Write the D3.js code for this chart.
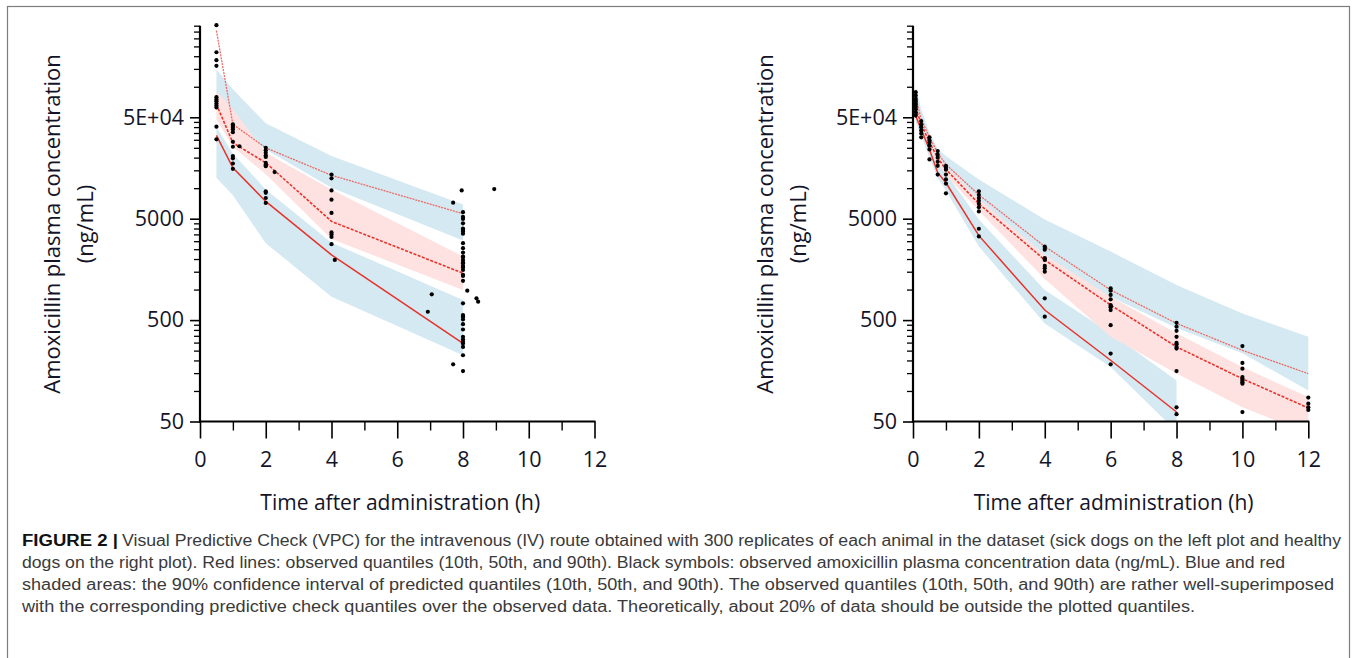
<!DOCTYPE html>
<html><head><meta charset="utf-8">
<script src="https://cdn.jsdelivr.net/npm/d3@7"></script>
<style>
html,body{margin:0;padding:0;background:#fff;}
svg{display:block;}
</style></head>
<body>
<svg id="c" width="1357" height="658"></svg>
<script>
// ---------- tick labels ----------
const yTickValues = [50, 500, 5000, 50000];
const yTickLabels = ["50", "500", "5000", "5E+04"];
const xTickValues = [0, 2, 4, 6, 8, 10, 12];
const xTickLabels = ["0", "2", "4", "6", "8", "10", "12"];
const yTitle = ["Amoxicillin plasma concentration", "(ng/mL)"];
const xTitle = "Time after administration (h)";

// ---------- left panel (sick dogs) ----------
const leftTimes = [0.5, 1, 2, 4, 8];
const leftP10 = [33200, 15900, 7400, 2200, 294];
const leftP50 = [67000, 28000, 17800, 4700, 1450];
const leftP90 = [357000, 42600, 25000, 13400, 5600];
const leftCI90hi = [149000, 94600, 43600, 20700, 6900];
const leftCI90lo = [60000, 42000, 24100, 10100, 3050];
const leftCI50hi = [91000, 60000, 22300, 9700, 2120];
const leftCI50lo = [47700, 25600, 13700, 3150, 990];
const leftCI10hi = [40000, 22000, 9700, 2900, 790];
const leftCI10lo = [12700, 8500, 2870, 851, 225];
const leftObsT = [0.5,0.5,0.5,0.5,0.5,0.5,0.5,0.5,0.5,0.5,0.5,0.5,
  1,1,1,1,1,1,1,1.2,1,1,1,1,
  2,2,2,2,2,2,2,2,2,2.27,2,2,2,2,
  4,4,4,4,4,4,4,4,4,4.1,
  7.7,7.96,8.95,8,8,8,8,8,8,8,8,8,8,8,8,8,8,8,8,8,8,8,8,8,8,
  7.05,8.41,8.13,8.46,8,6.93,8,8,8,8,8,8,8,8,8,8,8,8,7.7,8,8,8];
const leftObsV = [405000,219000,183000,161000,79000,75000,72000,68500,65500,62500,40400,30300,
  42600,41000,39400,37900,35600,28700,25600,25900,20700,19700,17500,15500,
  25000,23700,22300,21100,20300,17800,17100,16500,16500,14400,9300,9000,8000,7150,
  13600,12500,9500,7700,5700,3660,3500,3300,2800,1960,
  7200,9500,9800,5800,5200,4970,4500,4000,3900,3740,3550,2870,2560,2320,2120,1960,1820,1710,1650,1560,1400,1360,1220,
  2090,1850,898,820,975,759,731,604,561,540,540,508,456,404,342,322,305,294,272,225,183,157];

// ---------- right panel (healthy dogs) ----------
const rightTimes = [0.083, 0.25, 0.5, 0.75, 1, 2, 4, 6, 8, 10, 12];
const rightP90 = [78000, 47700, 31700, 22300, 17100, 8600, 2660, 991, 464, 252, 148];
const rightP50 = [62000, 42600, 28300, 19900, 15300, 7000, 1960, 704, 272, 132, 68];
const rightP10 = [51500, 37900, 24100, 14200, 11300, 3400, 628, 201, 62];
const rightCI90hi = [102000, 60000, 35000, 24500, 20700, 12200, 4900, 2370, 1110, 582, 342];
const rightCI90lo = [55000, 40000, 27000, 19000, 15000, 7000, 1680, 850, 417, 236, 101];
const rightCI50hi = [68000, 45000, 30000, 21500, 16500, 7800, 2200, 850, 370, 172, 87];
const rightCI50lo = [56000, 38000, 25500, 17500, 13500, 6000, 1270, 342, 149, 69, 38];
const rightCI10hi = [58000, 41000, 26000, 18000, 14000, 4900, 991, 370, 127];
const rightCI10lo = [45000, 33000, 20000, 12500, 9500, 2660, 464, 172, 40];
const rightObsT = [0.083,0.083,0.083,0.083,0.083,0.083,0.083,0.083,0.083,0.083,
  0.25,0.25,0.25,0.25,0.25,0.25,
  0.5,0.5,0.5,0.5,0.5,0.5,
  0.75,0.75,0.75,0.75,0.75,0.75,
  1,1,1,1,1,1,1,
  2,2,2,2,2,2,2,2,2,
  4,4,4,4,4,4,4,4,4,4,4,
  6,6,6,6,6,6,6,6,6,6,6,
  8,8,8,8,8,8,8,8,8,8,8,
  10,10,10,10,10,10,10,10,10,
  12,12,12,12];
const rightObsV = [88500,82000,76000,72600,69300,66000,63000,60000,56000,52000,
  45900,42600,39800,37100,34600,31700,
  31700,29500,28200,26300,24100,19200,
  23200,21400,20000,18200,16600,13600,
  16600,15900,15200,13600,12200,11100,8900,
  9300,8600,8000,7500,7000,6500,5900,3980,3340,
  2660,2570,2470,2040,2000,1960,1710,1620,1500,820,540,
  1030,975,885,802,704,688,668,628,446,234,183,
  470,430,392,342,298,289,272,262,157,69,59,
  277,189,166,137,132,127,122,118,62,
  86,75,69,65];

// ---------- caption ----------
const captionBold = "FIGURE 2 |";
const captionLines = [
  "Visual Predictive Check (VPC) for the intravenous (IV) route obtained with 300 replicates of each animal in the dataset (sick dogs on the left plot and healthy",
  "dogs on the right plot). Red lines: observed quantiles (10th, 50th, and 90th). Black symbols: observed amoxicillin plasma concentration data (ng/mL). Blue and red",
  "shaded areas: the 90% confidence interval of predicted quantiles (10th, 50th, and 90th). The observed quantiles (10th, 50th, and 90th) are rather well-superimposed",
  "with the corresponding predictive check quantiles over the observed data. Theoretically, about 20% of data should be outside the plotted quantiles."
];

// ================= drawing =================
const svg = d3.select("#c");
svg.append("rect").attr("x", 0).attr("y", 0).attr("width", 1357).attr("height", 658).attr("fill", "#fff");
svg.append("rect").attr("x", 7.5).attr("y", 6.5).attr("width", 1342).attr("height", 700)
  .attr("fill", "none").attr("stroke", "#7d7d7d").attr("stroke-width", 1.2);

const FONT = "'Open Sans', 'DejaVu Sans', sans-serif";
const BLUE = "#d4e9f1";
const PINK = "#fde2e1";
const RED = "#e8332b";
const RED90 = "#ee6a66";

const yTop = 25.7, yBot = 421.5;

function zip(ts, lo, hi) { return ts.slice(0, Math.min(lo.length, hi.length)).map((t, i) => ({t, lo: lo[i], hi: hi[i]})); }
function pts(ts, vs) { return vs.map((v, i) => ({t: ts[i], v})); }

function minorTicks() {
  const out = [];
  [50, 500, 5000, 50000].forEach(b => { for (let k = 2; k <= 9; k++) { const v = k * b; if (v <= 400000) out.push(v); } });
  return out;
}

function panel(id, x0, x1, d) {
  const x = d3.scaleLinear().domain([0, 12]).range([x0, x1]);
  const y = d3.scaleLog().domain([50, 400000]).range([yBot, yTop]);
  const g = svg.append("g");
  const clipId = "clip" + id;
  svg.append("clipPath").attr("id", clipId).append("rect")
    .attr("x", x0).attr("y", yTop).attr("width", x1 - x0 + 2).attr("height", yBot - yTop);
  const plot = g.append("g").attr("clip-path", `url(#${clipId})`);

  const area = d3.area().x(p => x(p.t)).y0(p => y(p.lo)).y1(p => y(p.hi));
  const line = d3.line().x(p => x(p.t)).y(p => y(p.v));

  plot.append("path").attr("d", area(zip(d.times, d.ci90lo, d.ci90hi))).attr("fill", BLUE);
  plot.append("path").attr("d", area(zip(d.times, d.ci10lo, d.ci10hi))).attr("fill", BLUE);
  plot.append("path").attr("d", area(zip(d.times, d.ci50lo, d.ci50hi))).attr("fill", PINK);

  plot.append("path").attr("d", line(pts(d.times, d.p90))).attr("fill", "none")
    .attr("stroke", RED90).attr("stroke-width", 1.3).attr("stroke-dasharray", "2,1");
  plot.append("path").attr("d", line(pts(d.times, d.p50))).attr("fill", "none")
    .attr("stroke", RED).attr("stroke-width", 1.6).attr("stroke-dasharray", "3,1.5");
  plot.append("path").attr("d", line(pts(d.times, d.p10))).attr("fill", "none")
    .attr("stroke", RED).attr("stroke-width", 1.5);

  g.append("g").selectAll("circle").data(d.obsV.map((v, i) => ({t: d.obsT[i], v})))
    .join("circle").attr("cx", p => x(p.t)).attr("cy", p => y(p.v)).attr("r", 2.1).attr("fill", "#000");

  // y axis
  const ya = g.append("g").attr("transform", `translate(${x0},0)`)
    .call(d3.axisLeft(y).tickValues(yTickValues).tickFormat((v, i) => yTickLabels[i]).tickSize(10).tickSizeOuter(0).tickPadding(6));
  ya.select(".domain").remove();
  ya.selectAll("line").attr("stroke", "#000").attr("stroke-width", 1.6);
  ya.selectAll("text").attr("font-family", FONT).attr("font-size", 21.5).attr("fill", "#141428");
  const ym = g.append("g").attr("transform", `translate(${x0},0)`)
    .call(d3.axisLeft(y).tickValues(minorTicks()).tickFormat("").tickSize(6).tickSizeOuter(0));
  ym.select(".domain").remove();
  ym.selectAll("line").attr("stroke", "#000").attr("stroke-width", 1.3);

  // x axis
  const xa = g.append("g").attr("transform", `translate(0,${yBot})`)
    .call(d3.axisBottom(x).tickValues(xTickValues).tickFormat((v, i) => xTickLabels[i]).tickSize(17).tickSizeOuter(0).tickPadding(13));
  xa.select(".domain").remove();
  xa.selectAll("line").attr("stroke", "#000").attr("stroke-width", 1.6);
  xa.selectAll("text").attr("font-family", FONT).attr("font-size", 21.5).attr("fill", "#141428");
  const xm = g.append("g").attr("transform", `translate(0,${yBot})`)
    .call(d3.axisBottom(x).tickValues(d3.range(1, 12, 2)).tickFormat("").tickSize(9).tickSizeOuter(0));
  xm.select(".domain").remove();
  xm.selectAll("line").attr("stroke", "#000").attr("stroke-width", 1.4);

  // axis lines
  g.append("line").attr("x1", x0).attr("x2", x0).attr("y1", yTop).attr("y2", yBot + 1)
    .attr("stroke", "#000").attr("stroke-width", 2.2);
  g.append("line").attr("x1", x0 - 1).attr("x2", x1 + 1).attr("y1", yBot).attr("y2", yBot)
    .attr("stroke", "#000").attr("stroke-width", 2.2);

  // titles
  g.append("text").attr("x", (x0 + x1) / 2 + 3).attr("y", 510).attr("text-anchor", "middle")
    .attr("font-family", FONT).attr("font-size", 21).attr("fill", "#141428").text(xTitle);
  yTitle.forEach((s, i) => {
    g.append("text").attr("transform", `translate(${x0 - 140 + i * 33},224) rotate(-90)`)
      .attr("text-anchor", "middle").attr("font-family", FONT).attr("font-size", 22)
      .attr("fill", "#141428").text(s);
  });
}

panel("L", 200, 594.5, {
  times: leftTimes, p10: leftP10, p50: leftP50, p90: leftP90,
  ci90hi: leftCI90hi, ci90lo: leftCI90lo, ci50hi: leftCI50hi, ci50lo: leftCI50lo,
  ci10hi: leftCI10hi, ci10lo: leftCI10lo, obsT: leftObsT, obsV: leftObsV
});
panel("R", 913, 1308.3, {
  times: rightTimes, p10: rightP10, p50: rightP50, p90: rightP90,
  ci90hi: rightCI90hi, ci90lo: rightCI90lo, ci50hi: rightCI50hi, ci50lo: rightCI50lo,
  ci10hi: rightCI10hi, ci10lo: rightCI10lo, obsT: rightObsT, obsV: rightObsV
});

// caption
const CAPFONT = "'Liberation Sans Narrow', 'Liberation Sans', Arial, sans-serif";
const capEnds = [1341, 1285, 1334, 1195];
const capBase = [545.5, 567.5, 589.5, 611.5];
svg.append("text").attr("x", 22).attr("y", capBase[0]).attr("font-family", CAPFONT)
  .attr("font-size", 16).attr("font-weight", "bold").attr("fill", "#111")
  .attr("textLength", 96).attr("lengthAdjust", "spacingAndGlyphs").text(captionBold);
captionLines.forEach((s, i) => {
  const sx = i === 0 ? 122 : 22;
  svg.append("text").attr("x", sx).attr("y", capBase[i]).attr("font-family", CAPFONT)
    .attr("font-size", 16).attr("fill", "#3a3a3a")
    .attr("textLength", capEnds[i] - sx).attr("lengthAdjust", "spacingAndGlyphs").text(s);
});
</script>
</body></html>
